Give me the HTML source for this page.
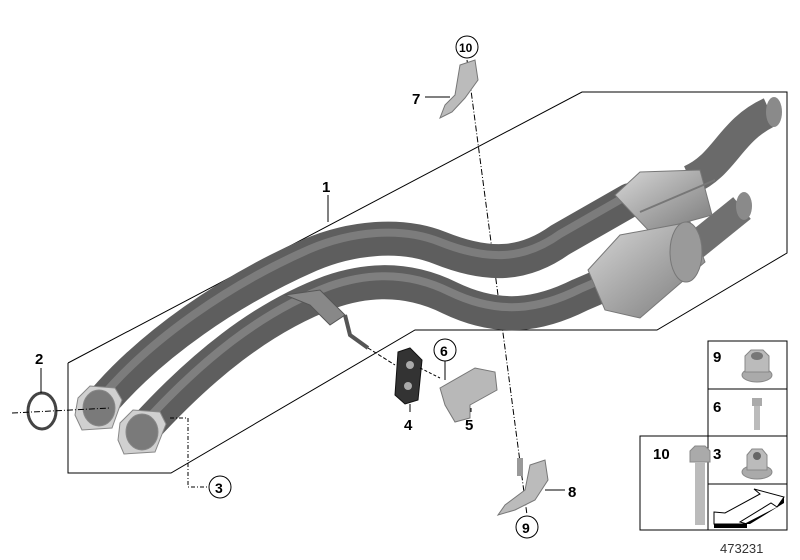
<!DOCTYPE html>
<html><head><meta charset="utf-8"><style>
html,body{margin:0;padding:0;background:#fff}
svg{display:block}
text{font-family:"Liberation Sans",Arial,sans-serif;font-weight:bold;fill:#000}
</style></head><body>
<svg width="800" height="560" viewBox="0 0 800 560" xmlns="http://www.w3.org/2000/svg">
<defs>
<linearGradient id="cg" x1="0" y1="0" x2="1" y2="1">
<stop offset="0" stop-color="#d8d8d8"/><stop offset="0.5" stop-color="#a8a8a8"/><stop offset="1" stop-color="#7a7a7a"/>
</linearGradient>
</defs>
<!-- outline -->
<polyline points="68,363 582,92 787,92 787,253 657,330 415,330 171,473 68,473 68,363" fill="none" stroke="#000" stroke-width="1"/>
<line x1="328" y1="195" x2="328" y2="222" stroke="#000"/>
<text x="322" y="192" font-size="15">1</text>
<line x1="467" y1="60" x2="527" y2="515" stroke="#000" stroke-dasharray="6,2,1,2" stroke-width="1"/>
<!-- outlet pipes -->
<path d="M690,180 C725,165 730,130 770,112" fill="none" stroke="#6a6a6a" stroke-width="30"/>
<path d="M690,250 L742,208" fill="none" stroke="#707070" stroke-width="28"/>
<ellipse cx="774" cy="112" rx="8" ry="15" fill="#8a8a8a"/>
<ellipse cx="744" cy="206" rx="8" ry="14" fill="#8a8a8a"/>
<!-- back pipe -->
<path d="M100,405 C150,345 230,290 310,255 C350,238 400,232 440,248 C490,268 525,265 560,240 L630,200" fill="none" stroke="#5e5e5e" stroke-width="34" stroke-linecap="round"/>
<path d="M100,405 C150,345 230,290 310,255 C350,238 400,232 440,248 C490,268 525,265 560,240 L630,200" fill="none" stroke="#9a9a9a" stroke-width="8" opacity="0.5" transform="translate(0,-6)"/>
<!-- back cat -->
<path d="M615,195 L640,172 L700,170 L712,215 L650,232 Z" fill="url(#cg)" stroke="#777"/>
<line x1="640" y1="212" x2="715" y2="180" stroke="#777" stroke-width="2"/>
<!-- front pipe -->
<path d="M145,428 C200,368 260,318 330,292 C370,278 410,278 450,298 C500,322 540,315 580,295 L615,280" fill="none" stroke="#5e5e5e" stroke-width="34" stroke-linecap="round"/>
<path d="M145,428 C200,368 260,318 330,292 C370,278 410,278 450,298 C500,322 540,315 580,295 L615,280" fill="none" stroke="#a0a0a0" stroke-width="8" opacity="0.5" transform="translate(0,-6)"/>
<!-- front cat -->
<path d="M588,270 L620,235 L690,222 L705,262 L640,318 L605,310 Z" fill="url(#cg)" stroke="#777"/>
<ellipse cx="686" cy="252" rx="16" ry="30" fill="#9a9a9a" stroke="#777"/>
<!-- bracket on pipes -->
<path d="M285,295 L320,290 L345,315 L330,325 L310,305 Z" fill="#888" stroke="#555"/>
<path d="M345,315 L350,335 L368,348" fill="none" stroke="#555" stroke-width="4"/>
<line x1="368" y1="348" x2="395" y2="365" stroke="#000" stroke-dasharray="4,2"/>
<!-- flanges -->
<g stroke="#888">
<path d="M78,398 L90,386 L115,388 L122,400 L112,428 L82,430 L75,415 Z" fill="#d0d0d0"/>
<ellipse cx="99" cy="408" rx="16" ry="18" fill="#7a7a7a"/>
<path d="M120,423 L133,410 L160,412 L166,424 L155,452 L124,454 L118,440 Z" fill="#d0d0d0"/>
<ellipse cx="142" cy="432" rx="16" ry="18" fill="#7a7a7a"/>
</g>
<!-- ring 2 -->
<ellipse cx="42" cy="411" rx="14" ry="18" fill="none" stroke="#444" stroke-width="3"/>
<line x1="12" y1="413" x2="110" y2="408" stroke="#000" stroke-dasharray="6,2,1,2"/>
<line x1="41" y1="368" x2="41" y2="393" stroke="#000"/>
<text x="35" y="364" font-size="15">2</text>
<!-- 3 -->
<polyline points="170,418 188,418 188,487 207,487" fill="none" stroke="#000" stroke-dasharray="4,2,1,2"/>
<circle cx="220" cy="487" r="11" fill="#fff" stroke="#000"/>
<text x="215" y="493" font-size="14">3</text>
<!-- 4 -->
<path d="M398,352 L410,348 L422,360 L418,400 L405,404 L395,395 Z" fill="#333" stroke="#111"/>
<circle cx="410" cy="365" r="4" fill="#aaa"/><circle cx="408" cy="386" r="4" fill="#aaa"/>
<line x1="420" y1="368" x2="440" y2="378" stroke="#000" stroke-dasharray="3,2"/>
<line x1="410" y1="404" x2="410" y2="412" stroke="#000"/>
<text x="404" y="430" font-size="15">4</text>
<!-- 5 -->
<path d="M440,388 L475,368 L495,372 L497,390 L470,405 L470,418 L455,422 L445,405 Z" fill="#b8b8b8" stroke="#777"/>
<line x1="471" y1="408" x2="471" y2="412" stroke="#000"/>
<text x="465" y="430" font-size="15">5</text>
<!-- 6 -->
<circle cx="445" cy="350" r="11" fill="#fff" stroke="#000"/>
<text x="440" y="356" font-size="14">6</text>
<line x1="445" y1="361" x2="445" y2="380" stroke="#000"/>
<!-- 7 -->
<path d="M460,65 L475,60 L478,80 L465,98 L452,112 L440,118 L445,105 L455,95 Z" fill="#bbb" stroke="#777"/>
<line x1="425" y1="97" x2="450" y2="97" stroke="#000"/>
<text x="412" y="104" font-size="15">7</text>
<circle cx="467" cy="47" r="11" fill="#fff" stroke="#000"/>
<text x="459" y="52" font-size="12">10</text>
<!-- 8 -->
<rect x="517" y="458" width="6" height="18" fill="#999"/>
<path d="M530,465 L545,460 L548,480 L535,500 L515,510 L498,515 L505,505 L525,490 Z" fill="#bbb" stroke="#777"/>
<line x1="545" y1="490" x2="565" y2="490" stroke="#000"/>
<text x="568" y="497" font-size="15">8</text>
<circle cx="527" cy="527" r="11" fill="#fff" stroke="#000"/>
<text x="522" y="533" font-size="14">9</text>
<!-- table -->
<g fill="none" stroke="#000" stroke-width="1">
<rect x="708" y="341" width="79" height="189"/>
<line x1="708" y1="389" x2="787" y2="389"/>
<line x1="708" y1="436" x2="787" y2="436"/>
<line x1="708" y1="484" x2="787" y2="484"/>
<rect x="640" y="436" width="68" height="94"/>
</g>
<text x="713" y="362" font-size="15">9</text>
<text x="713" y="412" font-size="15">6</text>
<text x="713" y="459" font-size="15">3</text>
<text x="653" y="459" font-size="15">10</text>
<!-- nut 9 -->
<ellipse cx="757" cy="375" rx="15" ry="7" fill="#aaa" stroke="#888"/>
<path d="M745,356 L751,350 L763,350 L769,356 L769,372 L745,372 Z" fill="#bbb" stroke="#888"/>
<ellipse cx="757" cy="356" rx="6" ry="4" fill="#777"/>
<!-- bolt 6 -->
<rect x="752" y="398" width="10" height="8" fill="#aaa"/>
<rect x="754" y="406" width="6" height="24" fill="#bbb"/>
<!-- nut 3 -->
<ellipse cx="757" cy="472" rx="15" ry="7" fill="#aaa" stroke="#888"/>
<path d="M747,455 L752,449 L762,449 L767,455 L767,470 L747,470 Z" fill="#bbb" stroke="#888"/>
<circle cx="757" cy="456" r="4" fill="#666"/>
<!-- bolt 10 -->
<path d="M690,451 L695,446 L705,446 L710,451 L710,462 L690,462 Z" fill="#aaa" stroke="#888"/>
<rect x="695" y="462" width="10" height="63" fill="#bbb"/>
<!-- arrow symbol -->
<path d="M714,512 L725,513 L760,494 L754,489 L784,497 L777,507 L771,503 L740,522 L747,524 L714,524 Z" fill="#fff" stroke="#000"/>
<path d="M714,524 L747,524 L747,528 L714,528 Z M777,507 L784,497 L784,503 L750,524 L744,524 Z" fill="#000"/>
<text x="720" y="553" font-size="13" style="font-weight:normal;fill:#333">473231</text>
</svg>
</body></html>
